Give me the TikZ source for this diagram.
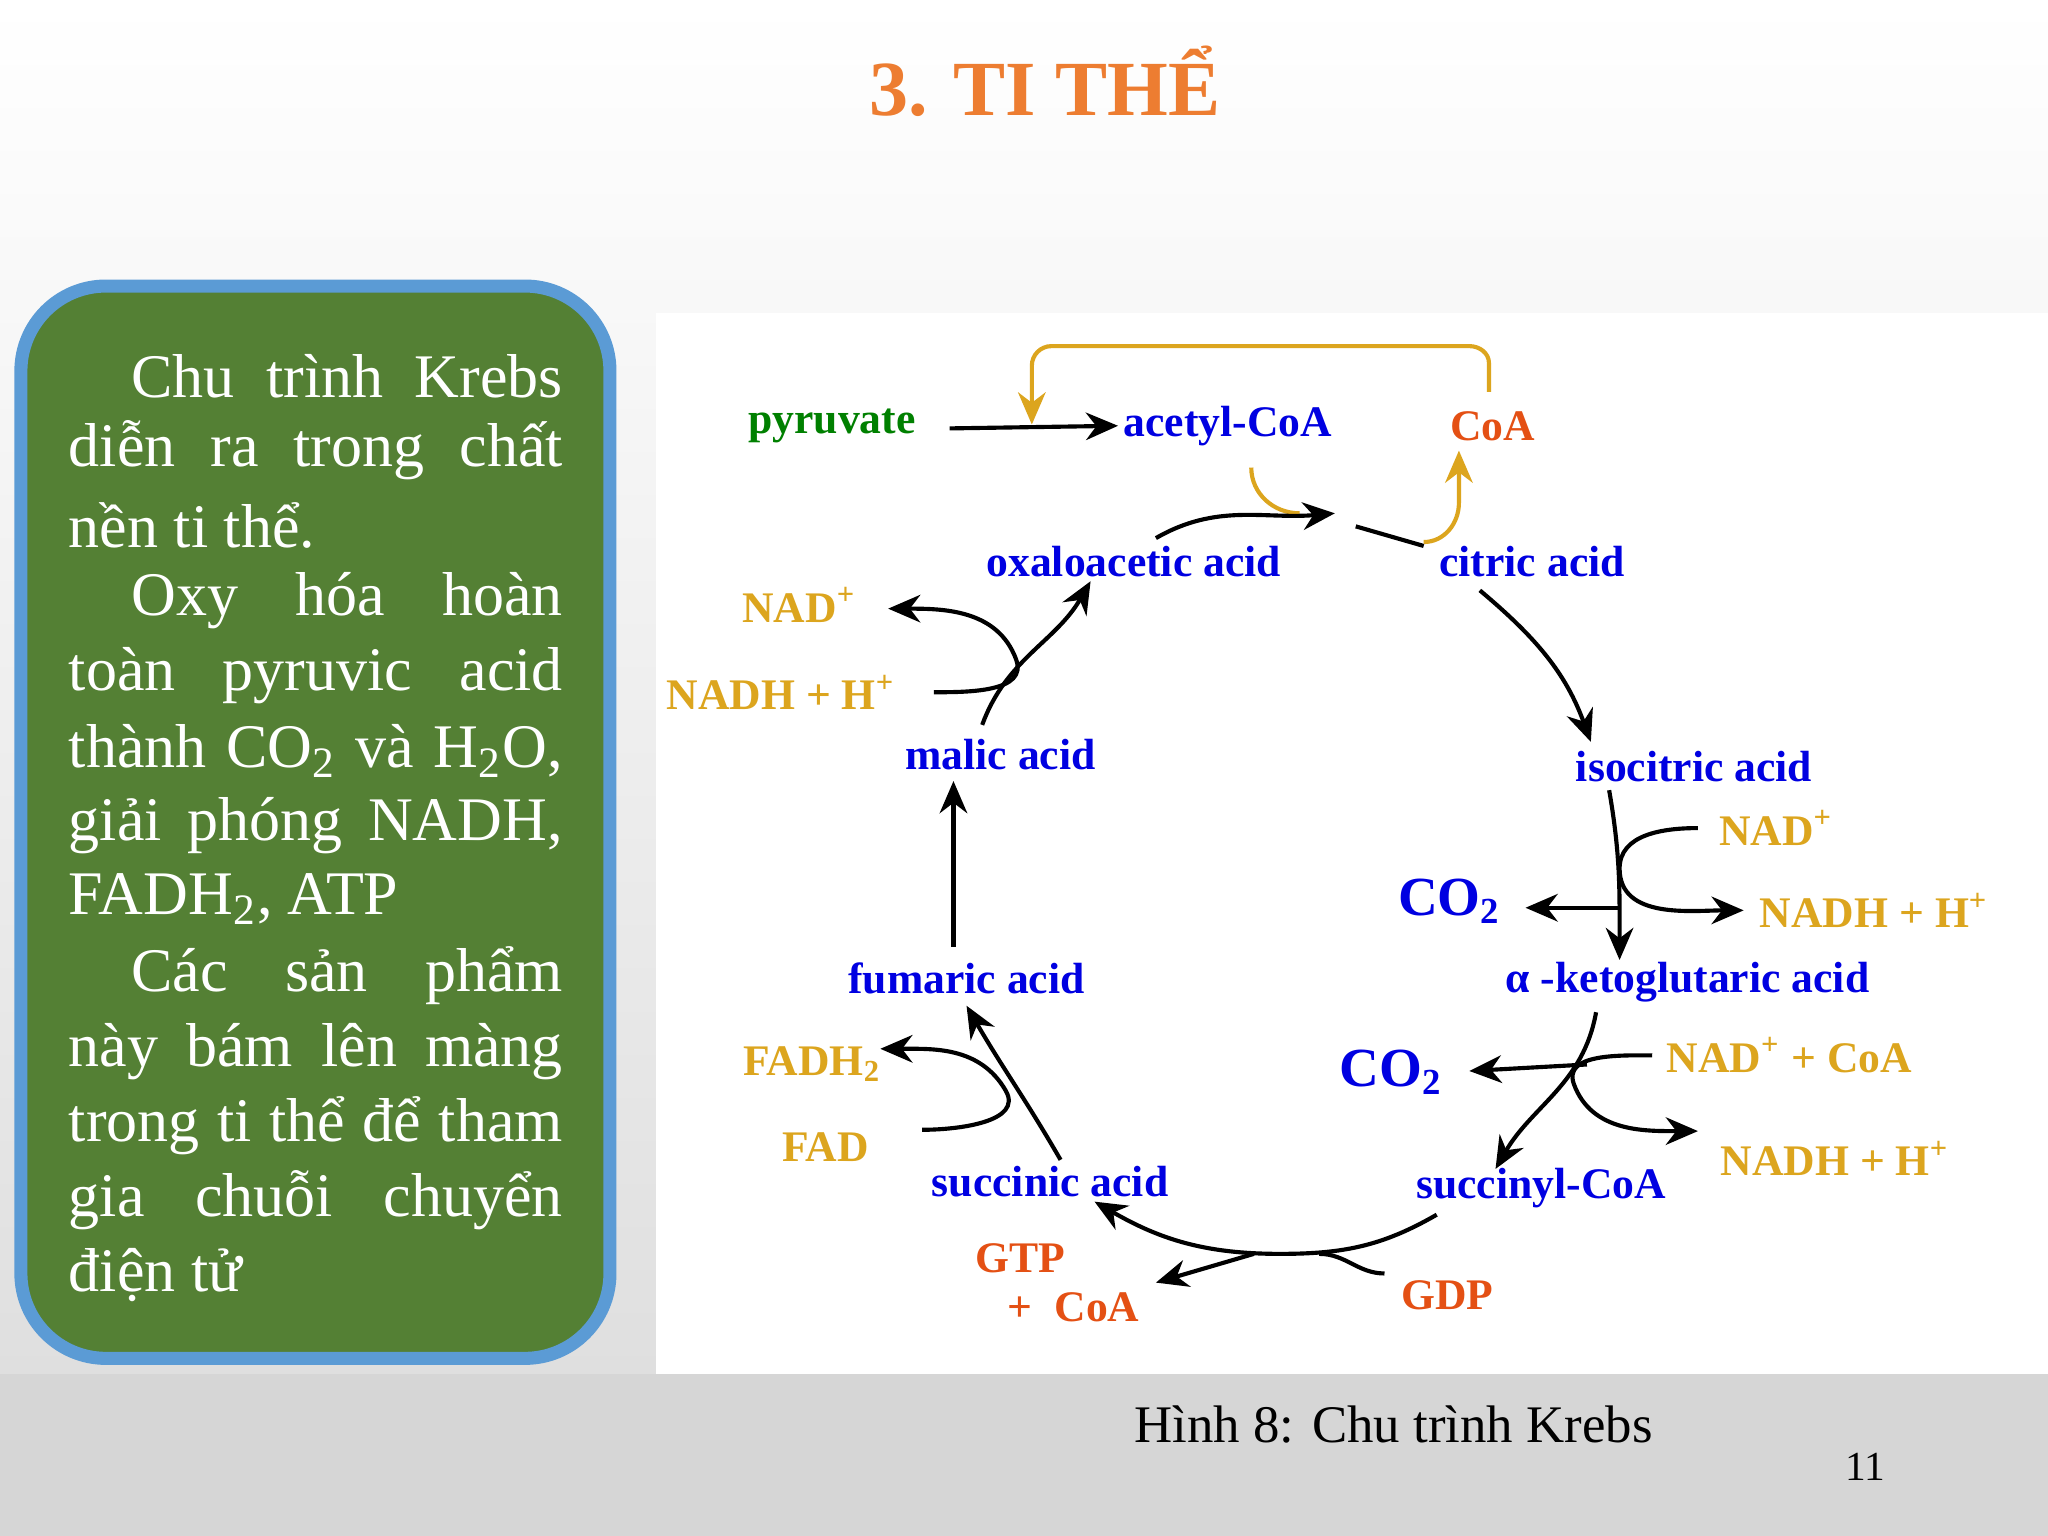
\documentclass[tikz,border=0pt]{standalone}
\usepackage{fontspec}
\setmainfont{Liberation Serif}
\usetikzlibrary{arrows.meta}
\definecolor{kblue}{RGB}{0,0,225}
\definecolor{kgold}{RGB}{220,165,30}
\definecolor{kred}{RGB}{228,80,20}
\definecolor{kgreen}{RGB}{0,128,0}
\definecolor{boxg}{RGB}{84,128,52}
\definecolor{boxb}{RGB}{91,155,213}
\definecolor{titor}{RGB}{237,125,49}
\tikzset{
 lab/.style={font=\fontsize{9.5}{10}\selectfont\bfseries, inner sep=1pt},
 bl/.style={lab,text=kblue}, gd/.style={lab,text=kgold}, rd/.style={lab,text=kred},
 ar/.style={draw=black, line width=0.9pt, -{Stealth[length=7pt,width=6pt]}},
 ln/.style={draw=black, line width=0.9pt},
 gar/.style={draw=kgold, line width=0.9pt, -{Stealth[length=7pt,width=6pt]}},
 bt/.style={anchor=west, inner sep=0pt, text=white, font=\fontsize{13.5}{15}\selectfont}
}
\newcommand{\jl}[1]{\makebox[3.78cm][s]{#1}}
\newcommand{\jli}[1]{\makebox[3.3cm][s]{#1}}
\begin{document}
\begin{tikzpicture}[x=0.01cm,y=-0.01cm]
\useasboundingbox (0,0) rectangle (1568,1176);
\shade[top color=white, bottom color=black!14] (0,0) rectangle (1568,1176);
\fill[black!16] (0,1052) rectangle (1568,1176);
\fill[white] (502,240) rectangle (1568,1052);
\node[text=titor, font=\fontsize{17}{19}\selectfont\bfseries] (title) at (800,62) {3. TI THỂ};
\draw[boxb, line width=0.1cm, fill=boxg, rounded corners=0.65cm] (16,219) rectangle (467,1040);
\node[bt] (l1) at (100,288) {\jli{Chu trình Krebs}};
\node[bt] (l2) at (52,345) {\jl{diễn ra trong chất}};
\node[bt] (l3) at (52,402) {nền ti thể.};
\node[bt] (l4) at (100,460) {\jli{Oxy hóa hoàn}};
\node[bt] (l5) at (52,517) {\jl{toàn pyruvic acid}};
\node[bt] (l6) at (52,575) {\jl{thành CO\textsubscript{2} và H\textsubscript{2}O,}};
\node[bt] (l7) at (52,632) {\jl{giải phóng NADH,}};
\node[bt] (l8) at (52,688) {FADH\textsubscript{2}, ATP};
\node[bt] (l9) at (100,747) {\jli{Các sản phẩm}};
\node[bt] (l10) at (52,805) {\jl{này bám lên màng}};
\node[bt] (l11) at (52,862) {\jl{trong ti thể để tham}};
\node[bt] (l12) at (52,919) {\jl{gia chuỗi chuyển}};
\node[bt] (l13) at (52,976) {điện tử};
\node[font=\fontsize{11.5}{13}\selectfont] (cap) at (1067,1091) {Hình 8: Chu trình Krebs};
\node[font=\fontsize{9}{11}\selectfont] (pg) at (1428,1123) {11};
% labels
\node[lab,text=kgreen] (pyr) at (637,326) {pyruvate};
\node[bl] (acoa) at (940,326) {acetyl-CoA};
\node[rd] (coa) at (1143,326) {CoA};
\node[bl] (oxa) at (868,430) {oxaloacetic acid};
\node[bl] (cit) at (1173,430) {citric acid};
\node[gd] (nad1) at (612,463) {NAD\textsuperscript{+}};
\node[gd] (nadh1) at (598,530) {NADH + H\textsuperscript{+}};
\node[bl] (mal) at (766,578) {malic acid};
\node[bl] (iso) at (1297,587) {isocitric acid};
\node[gd] (nad2) at (1360,634) {NAD\textsuperscript{+}};
\node[bl,font=\fontsize{12}{13}\selectfont\bfseries] (co21) at (1110,690) {CO\textsubscript{2}};
\node[gd] (nadh2) at (1435,697) {NADH + H\textsuperscript{+}};
\node[bl] (fum) at (740,749) {fumaric acid};
\node[bl] (akg) at (1292,752) {α -ketoglutaric acid};
\node[gd] (fadh) at (622,815) {FADH\textsubscript{2}};
\node[gd] (nad3) at (1370,808) {NAD\textsuperscript{+} + CoA};
\node[bl,font=\fontsize{12}{13}\selectfont\bfseries] (co22) at (1065,821) {CO\textsubscript{2}};
\node[gd] (fad) at (632,878) {FAD};
\node[gd] (nadh3) at (1405,887) {NADH + H\textsuperscript{+}};
\node[bl] (suc) at (804,905) {succinic acid};
\node[bl] (scoa) at (1180,910) {succinyl-CoA};
\node[rd] (gtp) at (781,963) {GTP};
\node[rd] (pcoa) at (822,1001) {+\ \ CoA};
\node[rd] (gdp) at (1108,992) {GDP};
% arrows
\draw[ar] (727,328) -- (acoa.west);
\draw[gar] (1140,300) -- (1140,278) to[out=90,in=0] (1125,265) -- (805,265) to[out=180,in=90] (790,280) -- (790,325);
\draw[gar] (1090,415) to[out=0,in=-90] (1117,385) -- (1117,345);
\draw[draw=kgold,line width=0.9pt] (958,358) to[out=-90,in=180] (995,393);
\draw[ar] (885,412) to[out=30,in=185] (1022,393);
\draw[ln] (1038,403) -- (1090,418);
\draw[ar] (1133,452) to[out=-40,in=110] (1218,568);
\draw[ar] (1232,605) to[out=-80,in=90] (1240,735);
\draw[ar] (1300,634) to[out=180,in=90] (1240,665) to[out=-90,in=180] (1335,697);
\draw[ar] (1240,695) -- (1168,695);
\draw[ar] (1222,775) to[out=-100,in=60] (1145,895);
\draw[ar] (1265,808) to[out=180,in=110] (1205,830) to[out=-70,in=180] (1300,866);
\draw[ar] (1215,815) -- (1125,820);
\draw[ar] (1100,930) to[out=-150,in=0] (980,960) to[out=180,in=-30] (838,920);
\draw[ln] (1060,975) to[out=180,in=0] (1010,960);
\draw[ar] (960,960) -- (885,982);
\draw[ar] (812,888) to[out=120,in=-60] (740,770);
\draw[ar] (706,865) to[out=0,in=-60] (770,835) to[out=120,in=0] (674,803);
\draw[ar] (730,725) -- (730,598);
\draw[ar] (752,555) to[out=70,in=-120] (835,445);
\draw[ar] (715,530) to[out=0,in=-70] (778,505) to[out=110,in=0] (680,466);
\end{tikzpicture}
\end{document}
